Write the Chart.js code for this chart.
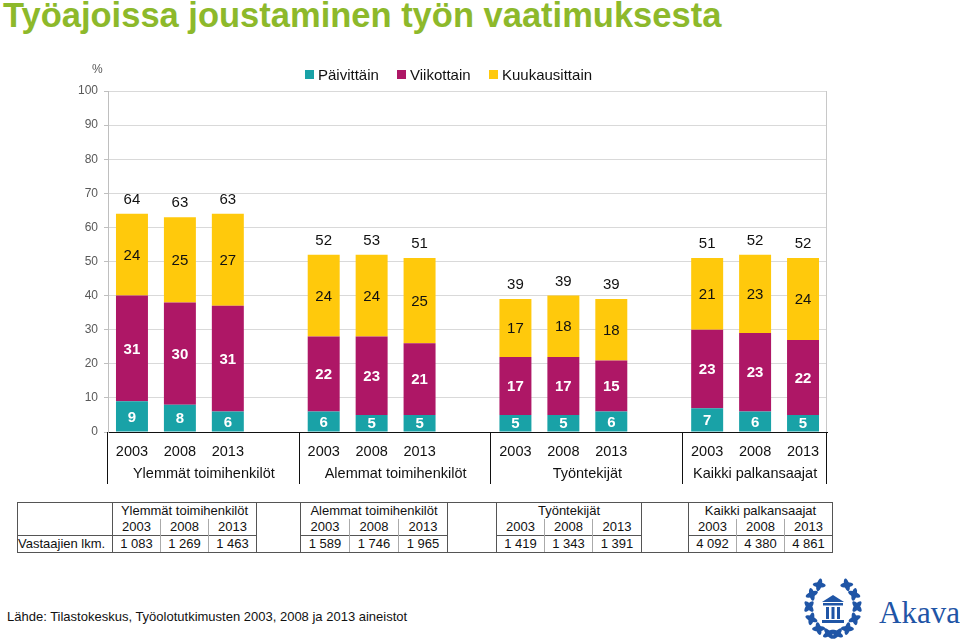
<!DOCTYPE html>
<html>
<head>
<meta charset="utf-8">
<script src="https://cdn.jsdelivr.net/npm/chart.js@4.4.1/dist/chart.umd.min.js"></script>
<style>
  body { margin: 0; width: 960px; height: 639px; overflow: hidden; background: #fff; position: relative;
         font-family: "Liberation Sans", Arial, sans-serif; color: #111; }
  #title { position: absolute; left: 3px; top: -2px; line-height: 34px; font-size: 34.5px; font-weight: bold;
           color: #8db92b; white-space: nowrap; }
  #chart { position: absolute; left: 0; top: 0; }
  #pct { position: absolute; left: 92px; top: 62px; font-size: 12px; color: #595959; }
  .leg { position: absolute; top: 66px; font-size: 15px; line-height: 18px; white-space: nowrap; }
  .leg i { display: inline-block; width: 9px; height: 9px; margin-right: 4px; vertical-align: 1px; }
  #tbl { position: absolute; left: 17px; top: 502px; border-collapse: collapse; table-layout: fixed; font-size: 13px; }
  #tbl td { padding: 0; height: 16px; line-height: 16px; text-align: center; white-space: nowrap; overflow: visible; }
  #src { position: absolute; left: 7px; top: 609px; font-size: 13px; }
  #logo { position: absolute; left: 780px; top: 570px; }
</style>
</head>
<body>
<div id="title">Työajoissa joustaminen työn vaatimuksesta</div>
<canvas id="chart" width="960" height="500"></canvas>
<div id="pct">%</div>
<div id="legend"></div>
<table id="tbl"></table>
<div id="src">Lähde: Tilastokeskus, Työolotutkimusten 2003, 2008 ja 2013 aineistot</div>
<svg id="logo" width="180" height="69" viewBox="0 0 180 69"></svg>
<script>
// data
const groups = ['Ylemmät toimihenkilöt', 'Alemmat toimihenkilöt', 'Työntekijät', 'Kaikki palkansaajat']
const years = ['2003', '2008', '2013']
const seriesNames = ['Päivittäin', 'Viikottain', 'Kuukausittain']
const daily   = [9, 8, 6,   6, 5, 5,   5, 5, 6,   7, 6, 5]
const weekly  = [31, 30, 31, 22, 23, 21, 17, 17, 15, 23, 23, 22]
const monthly = [24, 25, 27, 24, 24, 25, 17, 18, 18, 21, 23, 24]
const totals  = [64, 63, 63, 52, 53, 51, 39, 39, 39, 51, 52, 52]
const respondents = ['1 083', '1 269', '1 463', '1 589', '1 746', '1 965', '1 419', '1 343', '1 391', '4 092', '4 380', '4 861']
const yMax = 100
const yStep = 10

const colors = ['#19a2a7', '#ae1766', '#ffc90c']
const labelColors = ['#fff', '#fff', '#111']
const font = '"Liberation Sans", Arial, sans-serif'

// categories with an empty slot between groups
const labels = []
groups.forEach((g, gi) => {
    years.forEach(y => labels.push(y))
    if (gi < groups.length - 1) labels.push('')
})
function spread(arr) {
    const out = []
    groups.forEach((g, gi) => {
        for (let k = 0; k < years.length; k++) out.push(arr[gi * years.length + k])
        if (gi < groups.length - 1) out.push(null)
    })
    return out
}

// legend
const legendX = [305, 397, 489]
document.getElementById('legend').innerHTML = seriesNames.map((n, i) =>
    `<div class="leg" style="left:${legendX[i]}px"><i style="background:${colors[i]}"></i>${n}</div>`).join('')

const valuePlugin = {
    id: 'values',
    afterDatasetsDraw(chart) {
        const c = chart.ctx
        c.save()
        c.textAlign = 'center'
        c.textBaseline = 'middle'
        chart.data.datasets.forEach((ds, i) => {
            chart.getDatasetMeta(i).data.forEach((bar, j) => {
                const v = ds.data[j]
                if (v == null) return
                c.font = (i < 2 ? 'bold ' : '') + '15px ' + font
                c.fillStyle = labelColors[i]
                c.fillText(v, bar.x, (bar.y + bar.base) / 2 + 1)
            })
        })
        const tot = spread(totals)
        chart.getDatasetMeta(2).data.forEach((bar, j) => {
            if (tot[j] == null) return
            c.font = '15px ' + font
            c.fillStyle = '#111'
            c.fillText(tot[j], bar.x, bar.y - 14)
        })
        c.restore()
    }
}

const groupPlugin = {
    id: 'groups',
    afterDraw(chart) {
        const c = chart.ctx
        const x = chart.scales.x
        const area = chart.chartArea
        const w = (x.right - x.left) / labels.length
        c.save()
        // plot right border
        c.strokeStyle = '#c8c8c8'
        c.lineWidth = 1
        c.beginPath()
        c.moveTo(Math.round(area.right) - 0.5, area.top)
        c.lineTo(Math.round(area.right) - 0.5, area.bottom)
        c.stroke()
        // group separators below the axis
        const bounds = [0]
        groups.forEach((g, gi) => bounds.push(bounds[gi] + years.length + (gi < groups.length - 1 ? 1 : 0)))
        c.strokeStyle = '#111'
        c.beginPath()
        bounds.forEach(b => {
            const px = Math.round(x.left + b * w) - 0.5
            c.moveTo(px, x.top)
            c.lineTo(px, x.top + 52)
        })
        c.stroke()
        c.font = '14.5px ' + font
        c.fillStyle = '#111'
        c.textAlign = 'center'
        c.textBaseline = 'middle'
        groups.forEach((g, gi) => {
            const mid = x.left + (bounds[gi] + bounds[gi + 1]) / 2 * w
            c.fillText(g, mid, x.top + 42)
        })
        c.restore()
    }
}

new Chart(document.getElementById('chart'), {
    type: 'bar',
    data: {
        labels: labels,
        datasets: [
            { label: seriesNames[0], data: spread(daily), backgroundColor: colors[0] },
            { label: seriesNames[1], data: spread(weekly), backgroundColor: colors[1] },
            { label: seriesNames[2], data: spread(monthly), backgroundColor: colors[2] }
        ]
    },
    options: {
        responsive: false,
        animation: false,
        layout: { padding: { left: 58, right: 133, top: 91, bottom: 8 } },
        datasets: { bar: { categoryPercentage: 1, barPercentage: 0.667 } },
        plugins: { legend: { display: false }, tooltip: { enabled: false } },
        scales: {
            x: {
                stacked: true,
                grid: { color: 'transparent', drawTicks: false },
                border: { color: '#111' },
                ticks: { padding: 11, autoSkip: false, maxRotation: 0, color: '#111', font: { size: 14.5, family: font } },
                afterFit(s) { s.height = 60 }
            },
            y: {
                stacked: true,
                min: 0,
                max: yMax,
                ticks: { stepSize: yStep, padding: 6, color: '#595959', font: { size: 12, family: font } },
                grid: { color: '#d9d9d9', tickLength: 4, tickColor: '#bfbfbf' },
                border: { color: '#bfbfbf' },
                afterFit(s) { s.width = 50 }
            }
        }
    },
    plugins: [valuePlugin, groupPlugin]
})

// table under the chart
const dark = '1px solid #555'
const light = '1px solid #aaa'
const groupWidths = [[48, 48, 48], [49, 49, 49], [48, 48, 49], [48, 48, 48]]
const gapWidths = [44, 49, 47]
let cols = '<colgroup><col style="width:95px">'
groupWidths.forEach((gw, gi) => {
    gw.forEach(w => cols += `<col style="width:${w}px">`)
    if (gi < gapWidths.length) cols += `<col style="width:${gapWidths[gi]}px">`
})
cols += '</colgroup>'
let r1 = `<tr><td rowspan="2" style="border-left:${dark};border-top:${dark}"></td>`
let r2 = '<tr>'
let r3 = `<tr><td style="border-left:${dark};border-top:${dark};border-bottom:${dark};text-align:left">Vastaajien lkm.</td>`
groups.forEach((g, gi) => {
    r1 += `<td colspan="3" style="border-top:${dark};border-left:${dark};border-right:${dark}">${g}</td>`
    years.forEach((y, k) => {
        const bl = k === 0 ? dark : light
        const br = k === years.length - 1 ? dark : light
        r2 += `<td style="border-left:${bl};border-right:${br}">${y}</td>`
        r3 += `<td style="border-left:${bl};border-right:${br};border-top:${dark};border-bottom:${dark}">${respondents[gi * years.length + k]}</td>`
    })
    if (gi < gapWidths.length) {
        r1 += `<td rowspan="3" style="border:${dark}"></td>`
    }
})
document.getElementById('tbl').innerHTML = cols + r1 + '</tr>' + r2 + '</tr>' + r3 + '</tr>'

// Akava logo
const blue = '#1f55a6'
let svg = ''
const cx = 53, cy = 37, rx = 24, ry = 27
const angles = [100, 127, 154, 181, 208, 235]
angles.forEach(a => {
    [a, 180 - a].forEach(t => {
        const rad = t * Math.PI / 180
        const px = (cx + rx * Math.cos(rad)).toFixed(1), py = (cy + ry * Math.sin(rad)).toFixed(1)
        const tan = t + 90
        svg += `<ellipse cx="${px}" cy="${py}" rx="6.5" ry="2.6" fill="${blue}" transform="rotate(${tan + 40} ${px} ${py})"/>`
        svg += `<ellipse cx="${px}" cy="${py}" rx="6.5" ry="2.6" fill="${blue}" transform="rotate(${tan - 40} ${px} ${py})"/>`
    })
})
svg += `<polygon points="42,32 53,25 64,32" fill="${blue}"/>`
svg += `<rect x="43" y="33" width="20" height="2.5" fill="${blue}"/>`
;[46, 51.5, 57].forEach(px => svg += `<rect x="${px}" y="37" width="3" height="12" fill="${blue}"/>`)
svg += `<rect x="42" y="50" width="22" height="3" fill="${blue}"/>`
svg += `<text x="99" y="53" font-family="'Liberation Serif', 'DejaVu Serif', serif" font-size="31" fill="${blue}">Akava</text>`
document.getElementById('logo').innerHTML = svg
</script>
</body>
</html>
